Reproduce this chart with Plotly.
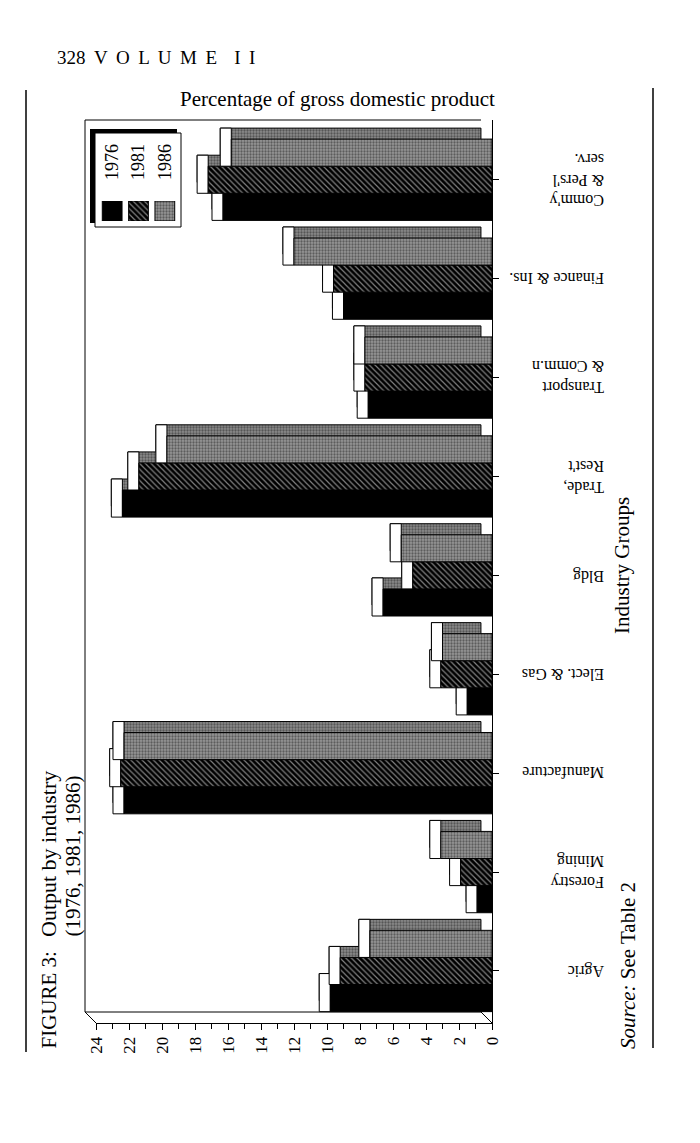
import plotly.graph_objects as go

# data (percent of GDP)
categories = ["Agric", "Forestry<br>Mining", "Manufacture", "Elect. & Gas", "Bldg",
              "Trade,<br>Rest't", "Transport<br>& Comm.n", "Finance & Ins.",
              "Comm'y<br>& Pers'l<br>serv."]
years = ["1976", "1981", "1986"]
share_1976 = [9.8, 0.9, 22.3, 1.5, 6.6, 22.4, 7.5, 9.0, 16.3]
share_1981 = [9.2, 1.9, 22.5, 3.1, 4.8, 21.4, 7.7, 9.6, 17.2]
share_1986 = [7.4, 3.1, 22.3, 3.0, 5.5, 19.7, 7.7, 12.0, 15.8]
x_ticks = list(range(0, 25, 2))

FONT = "Liberation Serif, Times New Roman, serif"
OFF = 8                               # page body margin of the html file
W, H = 700 - OFF, 1143 - OFF
# plot area, in screen pixels
L, R, T, B = 96, 492, 120, 1023


def xp(px):
    return (px - L) / (R - L)


def yp(py):
    return (B - py) / (B - T)


# fake 3D look: back face, white end cap, then front face
BAR_W = 0.274
DX, DY = 0.67, 0.111
offsets = [-0.411, -0.137, 0.137]
top_face = dict(shape=".", fgcolor="#222", bgcolor="#8a8a8a", size=3, solidity=0.45)
fronts = [
    dict(color="black"),
    dict(color="black", pattern=dict(shape="\\", fgcolor="white", bgcolor="black",
                                     size=4, solidity=0.3)),
    dict(color="#888888", pattern=dict(shape=".", fgcolor="#222", bgcolor="#969696",
                                       size=3, solidity=0.45)),
]
edge = dict(color="black", width=1)

fig = go.Figure()
for vals, off, front in zip([share_1976, share_1981, share_1986], offsets, fronts):
    n = len(vals)
    fig.add_trace(go.Bar(y=categories, x=vals, base=[DX] * n, orientation="h",
                         offset=off + DY, width=BAR_W,
                         marker=dict(color="#888", pattern=top_face, line=edge)))
    fig.add_trace(go.Bar(y=categories, x=[DX] * n, base=vals, orientation="h",
                         offset=off, width=BAR_W + DY,
                         marker=dict(color="white", line=edge)))
    fig.add_trace(go.Bar(y=categories, x=vals, orientation="h",
                         offset=off, width=BAR_W,
                         marker=dict(**front, line=edge)))

# legend swatches drawn on a small second axis
for yr, front in zip(years, fronts):
    fig.add_trace(go.Bar(x=[yr], y=[1], width=0.75, xaxis="x2", yaxis="y2",
                         marker=dict(**front, line=edge)))

shapes = []


def line(x0, y0, x1, y1, w=1):
    shapes.append(dict(type="line", xref="paper", yref="paper", x0=xp(x0), y0=yp(y0),
                       x1=xp(x1), y1=yp(y1), line=dict(color="black", width=w),
                       layer="below"))


# page rules
line(26, 90, 26, 1052, 1.5)
line(653, 88, 653, 1048, 1.5)
# back wall and floor
line(85, 120, 85, 1012)
line(85, 120, 481, 120)
line(85, 1012, 481, 1012)
line(85, 1012, 96, 1023)
line(481, 1012, 492, 1023)
# legend box with shadow
shapes.append(dict(type="rect", xref="paper", yref="paper", x0=xp(90), y0=yp(129),
                   x1=xp(177), y1=yp(223), fillcolor="black", line=dict(width=0),
                   layer="below"))
shapes.append(dict(type="rect", xref="paper", yref="paper", x0=xp(95), y0=yp(133),
                   x1=xp(181), y1=yp(227), fillcolor="white",
                   line=dict(color="black", width=1), layer="below"))

annotations = []
for c in categories:
    annotations.append(dict(x=xp(606), xref="paper", y=c, yref="y", text=c,
                            showarrow=False, textangle=180, align="left",
                            xanchor="right", yanchor="middle",
                            font=dict(family=FONT, size=16, color="black")))


def note(text, x, y, size, angle=0, xa="center", ya="middle", align="center"):
    annotations.append(dict(x=xp(x), y=yp(y), xref="paper", yref="paper", text=text,
                            showarrow=False, textangle=angle, xanchor=xa, yanchor=ya,
                            align=align, font=dict(family=FONT, size=size, color="black")))


sp = " \u2009"
note("328" + sp + sp.join("VOLUME") + sp + sp + "I" + sp + "I", 55, 57, 19, xa="left")
note("Percentage of gross domestic product", 337, 99, 21)
note("FIGURE 3:", 48, 1051, 21, angle=-90, ya="bottom")
note("Output by industry", 48, 939, 22, angle=-90, ya="bottom")
note("(1976, 1981, 1986)", 72, 939, 21, angle=-90, ya="bottom")
note("Industry Groups", 622, 566, 21, angle=-90)
note("<i>Source:</i> See Table 2", 628, 966, 21, angle=-90)

fig.update_layout(
    width=W, height=H,
    margin=dict(l=L - OFF, r=W - (R - OFF), t=T - OFF, b=H - (B - OFF), pad=0),
    barmode="overlay",
    showlegend=False,
    paper_bgcolor="white",
    plot_bgcolor="rgba(0,0,0,0)",
    font=dict(family=FONT, color="black"),
    shapes=shapes,
    annotations=annotations,
    xaxis=dict(range=[24, 0], tickvals=x_ticks, ticks="outside", ticklen=6,
               tickcolor="black", showline=True, linecolor="black", linewidth=1,
               showgrid=False, zeroline=False, tickangle=-90,
               tickfont=dict(family=FONT, size=17),
               minor=dict(dtick=1, tick0=0, ticks="outside", ticklen=5,
                          tickcolor="black", showgrid=False)),
    yaxis=dict(type="category", categoryarray=categories, range=[-0.526, 8.604],
               side="right", showline=True, linecolor="black", linewidth=1,
               ticks="outside", ticklen=6, tickcolor="black",
               showticklabels=False, showgrid=False, zeroline=False),
    xaxis2=dict(domain=[xp(99), xp(178)], anchor="y2", type="category",
                categoryarray=years, side="top", ticks="", showline=False,
                showgrid=False, zeroline=False, tickangle=-90,
                ticklabelstandoff=20, tickfont=dict(family=FONT, size=18)),
    yaxis2=dict(domain=[yp(221), yp(201)], anchor="x2", range=[0, 1], visible=False),
)

fig.write_html("out.html")
